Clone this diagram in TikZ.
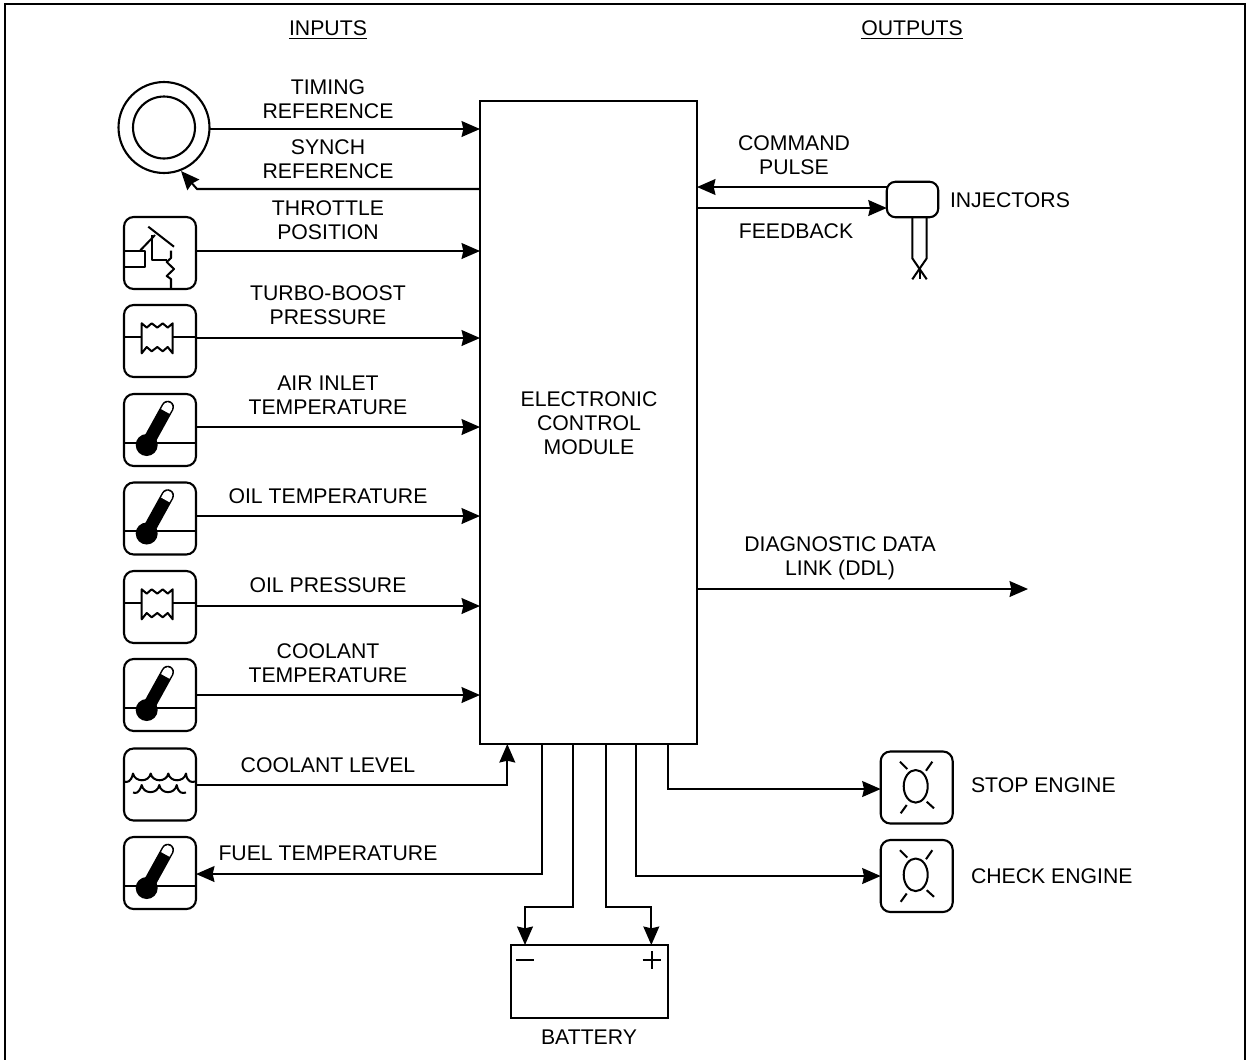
\documentclass[tikz,border=0pt]{standalone}
\usepackage{fontspec}
\setmainfont{Liberation Sans}
\usetikzlibrary{arrows.meta}
\tikzset{
  x=0.02cm,y=-0.02cm,
  every node/.style={font=\fontsize{12.08}{13.6}\selectfont,inner sep=0pt,outer sep=0pt},
  ln/.style={line width=1.15pt,line join=round},
  conn/.style={line width=1.15pt,-{Stealth[length=10.5pt,width=9pt,inset=1pt]}},
  sensor/.style={draw,line width=1.2pt,rounded corners=5.5pt,minimum width=1.44cm,minimum height=1.44cm},
  lamp/.style={sensor},
  lbl/.style={align=center,anchor=center},
  side/.style={anchor=west},
  thermo/.pic={
    \draw[ln] (-36,12.7) -- (36,12.7);
    \fill (-13.3,15) circle (11);
    \draw[line width=7.2pt,line cap=round] (-13.3,15) -- (7.7,-23);
    \fill[white] (7.7,-23) circle (4.8);
    \fill[white] (11.9,-20.68) -- (3.5,-25.32) -- (1.08,-20.94) -- (9.48,-16.3) -- cycle;
  },
  bellows/.pic={
    \draw[ln] (-36,-4.3) -- (-18.3,-4.3) (12.7,-4.3) -- (36,-4.3);
    \draw[ln] (-18.3,-17.7) -- (-13.3,-13.4) -- (-8.3,-17.7) -- (-2.7,-13.4) -- (2.7,-17.7) -- (7.7,-13.4) -- (12.7,-17.7)
      -- (12.7,12.3) -- (7.7,6) -- (2.7,10.3) -- (-2.7,6) -- (-8.3,10.3) -- (-13.3,6) -- (-18.3,12.3) -- cycle;
  },
  bulb/.pic={
    \draw[ln] (-1,-1.2) ellipse (12 and 16.3);
    \draw[ln] (-16.7,-25.8) -- (-9.4,-18.5) (15.6,-25.8) -- (9.3,-16.8)
      (-16,25.8) -- (-10,17.5) (17.3,20.8) -- (10,14.2);
  },
  waves/.pic={
    \draw[ln] (-36,-3) .. controls (-33,-2) and (-29,-2) .. (-27,-11)
      .. controls (-25,-2) and (-11,-2) .. (-9.3,-11)
      .. controls (-7.5,-2) and (6.5,-2) .. (8.3,-11)
      .. controls (10,-2) and (24,-2) .. (26,-11)
      .. controls (27,-2) and (32,-2) .. (35,-3);
    \draw[ln] (-27,8) .. controls (-24,9) and (-21,9) .. (-18.3,0.5)
      .. controls (-16.5,10) and (-2.5,10) .. (-0.7,0.5)
      .. controls (1,10) and (15,10) .. (16.7,0.5)
      .. controls (18.5,9) and (22,9) .. (26,8);
  },
}
\begin{document}
\begin{tikzpicture}
\useasboundingbox (0,0) rectangle (1246,1059);
\fill[white] (0,0) rectangle (1246,1059);
% frame
\draw[line width=1.2pt] (5,1070) -- (5,4) -- (1245,4) -- (1245,1070);
% main block
\node[draw,line width=1.2pt,minimum width=4.34cm,minimum height=12.86cm] (ecm) at (588.5,422.5) {};
\node[lbl] (ecmtext) at (589,423.5) {ELECTRONIC\\CONTROL\\MODULE};
% headings
\node[lbl] (hin) at (328,30) {\underline{INPUTS}};
\node[lbl] (hout) at (912,30) {\underline{OUTPUTS}};
% timing wheel
\node[circle,draw,line width=1.2pt,minimum size=1.82cm] (wheel) at (164,127.5) {};
\node[circle,draw,line width=1.2pt,minimum size=1.24cm] (wheelin) at (164,127.5) {};
% sensors
\node[sensor] (tps) at (160,253) {};
\node[sensor] (boost) at (160,341) {};
\node[sensor] (air) at (160,430) {};
\node[sensor] (oilt) at (160,518.5) {};
\node[sensor] (oilp) at (160,607) {};
\node[sensor] (coolt) at (160,695) {};
\node[sensor] (level) at (160,784.5) {};
\node[sensor] (fuel) at (160,873) {};
\pic at (boost) {bellows};
\pic at (oilp) {bellows};
\pic at (air) {thermo};
\pic at (oilt) {thermo};
\pic at (coolt) {thermo};
\pic at (fuel) {thermo};
\pic at (level) {waves};
% throttle symbol
\draw[ln] (148.3,226.7) -- (174,246.7);
\draw[ln] (140,250.7) -- (155,235);
\draw[ln] (124,251) -- (145,251) -- (145,266.7) -- (124,266.7);
\draw[ln] (151.7,235) -- (151.7,260) -- (166.7,260);
\draw[ln] (171,250.7) -- (171,258) -- (166.7,262) -- (174,269) -- (166.7,276) -- (171,279) -- (171,288.5);
% injector
\node[draw,line width=1.2pt,rounded corners=5pt,minimum width=1.03cm,minimum height=0.71cm] (inj) at (912.5,199.5) {};
\draw[ln] (912.3,217.3) -- (912.3,258.3) -- (926.7,279.3);
\draw[ln] (926.7,217.3) -- (926.7,258.3) -- (912.3,279.3);
\draw[ln] (919.5,268.5) -- (919.5,279.3);
% lamps
\node[lamp] (stop) at (916.7,787.5) {};
\node[lamp] (check) at (916.7,876) {};
\pic at (stop) {bulb};
\pic at (check) {bulb};
% battery
\node[draw,line width=1.2pt,minimum width=3.14cm,minimum height=1.46cm] (batt) at (589.2,981.7) {};
\draw[ln] (516,960) -- (534.3,960);
\draw[ln] (642.7,960) -- (660.7,960) (651.7,951) -- (651.7,969);
% connectors
\draw[conn] (wheel.east |- 0,129) -- (ecm.west |- 0,129);
\draw[conn] (ecm.west |- 0,189) -- (197,189) -- (181,171);
\draw[conn] (tps.east |- 0,251) -- (ecm.west |- 0,251);
\draw[conn] (boost.east |- 0,338) -- (ecm.west |- 0,338);
\draw[conn] (air.east |- 0,427) -- (ecm.west |- 0,427);
\draw[conn] (oilt.east |- 0,516) -- (ecm.west |- 0,516);
\draw[conn] (oilp.east |- 0,606) -- (ecm.west |- 0,606);
\draw[conn] (coolt.east |- 0,695) -- (ecm.west |- 0,695);
\draw[conn] (level.east |- 0,785) -- (507.3,785) -- (507.3,744);
\draw[conn] (541.7,744) -- (541.7,874) -- (fuel.east |- 0,874);
\draw[conn] (573.3,744) -- (573.3,906.7) -- (525,906.7) -- (525,945);
\draw[conn] (606.3,744) -- (606.3,907.3) -- (651.3,907.3) -- (651.3,945);
\draw[conn] (636,744) -- (636,876) -- (check.west);
\draw[conn] (667.7,744) -- (667.7,789) -- (stop.west |- 0,789);
\draw[conn] (ecm.east |- 0,589) -- (1028,589);
\draw[conn] (inj.west |- 0,187) -- (ecm.east |- 0,187);
\draw[conn] (ecm.east |- 0,208) -- (inj.west |- 0,208);
% labels
\node[lbl] (l1) at (328,99) {TIMING\\REFERENCE};
\node[lbl] (l2) at (328,159) {SYNCH\\REFERENCE};
\node[lbl] (l3) at (328,220) {THROTTLE\\POSITION};
\node[lbl] (l4) at (328,305) {TURBO-BOOST\\PRESSURE};
\node[lbl] (l5) at (328,395) {AIR INLET\\TEMPERATURE};
\node[lbl] (l6) at (328,496) {OIL TEMPERATURE};
\node[lbl] (l7) at (328,585) {OIL PRESSURE};
\node[lbl] (l8) at (328,663) {COOLANT\\TEMPERATURE};
\node[lbl] (l9) at (328,765) {COOLANT LEVEL};
\node[lbl] (l10) at (328,853) {FUEL TEMPERATURE};
\node[lbl] (r1) at (794,155) {COMMAND\\PULSE};
\node[lbl] (r2) at (796,231) {FEEDBACK};
\node[side] (r3) at (950,200) {INJECTORS};
\node[lbl] (r4) at (840,558) {DIAGNOSTIC DATA\\LINK (DDL)};
\node[side] (r5) at (971,785) {STOP ENGINE};
\node[side] (r6) at (971,876) {CHECK ENGINE};
\node[lbl] (r7) at (589,1037) {BATTERY};
\end{tikzpicture}
\end{document}
